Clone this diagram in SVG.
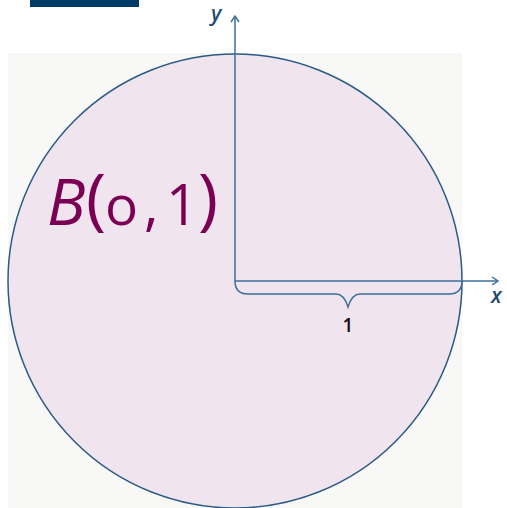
<svg xmlns="http://www.w3.org/2000/svg" width="507" height="508" viewBox="0 0 507 508">
<style>
.axis{stroke:#3d6f98;stroke-width:1.5;fill:none}
.lbl{font-family:"Open Sans","Liberation Sans",sans-serif;font-style:italic;font-weight:600;fill:#1f4a73;font-size:21px}
.bt{font-family:"Open Sans","Liberation Sans",sans-serif;fill:#7a0054}
</style>
<defs>
<marker id="arr" markerWidth="10" markerHeight="10" refX="8" refY="5" orient="auto" markerUnits="userSpaceOnUse">
<path d="M2,1 L8,5 L2,9" fill="none" stroke="#3d6f98" stroke-width="1.5"/>
</marker>
</defs>
<rect width="507" height="508" fill="#ffffff"/>
<rect x="30" y="0" width="109" height="7" fill="#003a66"/>
<rect x="8" y="53" width="454" height="455" fill="#f8f8f6"/>
<g id="ball">
<circle cx="235" cy="281" r="227" fill="#f0e4ee" stroke="#2a5a86" stroke-width="1.5"/>
<text class="bt" y="225"><tspan x="47" font-size="64" font-style="italic">B</tspan><tspan x="86" y="222" font-size="68">(</tspan><tspan x="105" y="225" font-size="55" font-weight="500">o</tspan><tspan x="144" font-size="56">,</tspan><tspan x="166" font-size="56">1</tspan><tspan x="198" y="222" font-size="68">)</tspan></text>
</g>
<g id="connectors">
<line class="axis" x1="235" y1="281" x2="235" y2="16" marker-end="url(#arr)"/>
<line class="axis" x1="235" y1="281" x2="498" y2="281" marker-end="url(#arr)"/>
<path class="axis" d="M235,281 Q235,294 248,294 L336,294 Q344,294 348,307 Q352,294 360,294 L449,294 Q462,294 462,281"/>
</g>
<text class="lbl" x="211" y="21">y</text>
<text class="lbl" x="491" y="303">x</text>
<text x="348" y="332" font-family="'Open Sans','Liberation Sans',sans-serif" font-size="19" font-weight="600" fill="#111" text-anchor="middle">1</text>
</svg>
